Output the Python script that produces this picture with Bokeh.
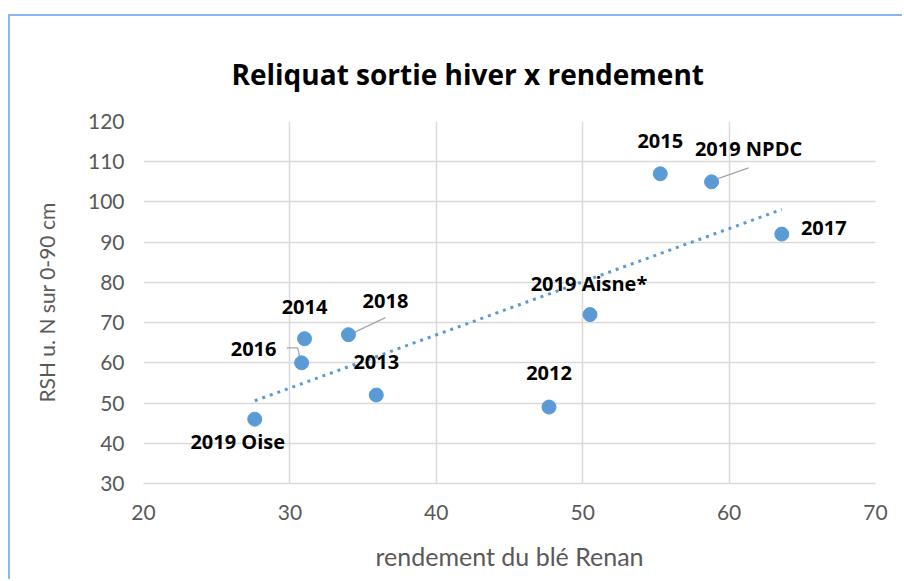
import numpy as np
from bokeh.plotting import figure
from bokeh.models import ColumnDataSource, LabelSet, FixedTicker, Range1d
from bokeh.core.properties import value
from bokeh.embed import file_html
from bokeh.resources import INLINE

# ---- data ----
labels = ["2019 Oise", "2016", "2014", "2018", "2013", "2012",
          "2019 Aisne*", "2015", "2019 NPDC", "2017"]
rendement = [27.6, 30.8, 31.0, 34.0, 35.9, 47.7, 50.5, 55.3, 58.8, 63.6]
rsh = [46, 60, 66, 67, 52, 49, 72, 107, 105, 92]
x_ticks = [20, 30, 40, 50, 60, 70]
y_ticks = [30, 40, 50, 60, 70, 80, 90, 100, 110, 120]

# ---- layout (pixels) ----
W, H = 894, 565
FW, FH = 732, 362
BL, BT = 133, 105
BR, BB = W - BL - FW, H - BT - FH
X0, X1, Y0, Y1 = 20, 70, 30, 120
PX = FW / (X1 - X0)   # pixels per x unit
PY = FH / (Y1 - Y0)   # pixels per y unit

# label offsets in pixels (dx right, dy up)
lab_dx = [-17, -48, 0, 37, 0, 0, -1, 0, 37, 42]
lab_dy = [-22, 14, 32, 34, 33, 34, 31, 33, 33, 6]

BLUE = "#5B9BD5"
GRID = "#D9D9D9"
TXT = "#595959"
FONT = "Lato"
BFONT = "Open Sans"

p = figure(width=W, height=H, output_backend="svg", toolbar_location=None,
           x_range=Range1d(X0, X1), y_range=Range1d(Y0, Y1),
           min_border_left=BL, min_border_right=BR, min_border_top=BT,
           min_border_bottom=BB)
p.styles = {"border-top": "2px solid #8AB6EA", "border-left": "2px solid #8AB6EA",
            "margin-top": "14px", "margin-left": "8px"}
p.outline_line_color = None
p.background_fill_color = "white"
p.border_fill_color = "white"

p.title.text = "Reliquat sortie hiver x rendement"
p.title.align = "left"
p.title.offset = 88
p.title.standoff = 57
p.title.text_font = BFONT
p.title.text_font_size = "28px"
p.title.text_font_style = "bold"
p.title.text_color = "black"

p.xaxis.ticker = FixedTicker(ticks=x_ticks)
p.yaxis.ticker = FixedTicker(ticks=y_ticks)
for ax in (p.xaxis, p.yaxis):
    ax.major_tick_line_color = None
    ax.minor_tick_line_color = None
    ax.major_tick_out = 0
    ax.major_label_text_font = FONT
    ax.major_label_text_font_size = "21px"
    ax.major_label_text_color = TXT
    ax.axis_label_text_font = FONT
    ax.axis_label_text_font_style = "normal"
    ax.axis_label_text_color = TXT
p.xaxis.axis_label_text_font_size = "25px"
p.yaxis.axis_label_text_font_size = "21px"
p.yaxis.axis_line_color = None
p.xaxis.axis_line_color = GRID
p.xaxis.axis_line_width = 1.5
p.xaxis.major_label_standoff = 21
p.yaxis.major_label_standoff = 19
p.xaxis.axis_label = "rendement du blé Renan"
p.yaxis.axis_label = "RSH u. N sur 0-90 cm"
p.xaxis.axis_label_standoff = 18
p.yaxis.axis_label_standoff = 26

p.xgrid.grid_line_color = GRID
p.ygrid.grid_line_color = GRID
p.xgrid.grid_line_width = 1.5
p.ygrid.grid_line_width = 1.5

# trendline (linear regression of the data)
xs = np.array(rendement, dtype=float)
ys = np.array(rsh, dtype=float)
a, b = np.polyfit(xs, ys, 1)
tx = [float(xs.min()), float(xs.max())]
p.line(tx, [a * t + b for t in tx], line_color=BLUE, line_width=3,
       line_dash="3 5")

# leader lines (pixel offsets from the point)
leaders = {
    "2016": [(-15, 15), (-4, 15), (-1, 2)],
    "2018": [(37, 17), (1, 0)],
    "2019 NPDC": [(37, 14), (0, 1)],
}
lx, ly = [], []
for name, pts in leaders.items():
    i = labels.index(name)
    lx.append([rendement[i] + dx / PX for dx, dy in pts])
    ly.append([rsh[i] + dy / PY for dx, dy in pts])
p.multi_line(lx, ly, line_color="#A6A6A6", line_width=1.3)

src = ColumnDataSource(dict(x=rendement, y=rsh, t=labels, dx=lab_dx, dy=lab_dy))
p.scatter("x", "y", source=src, size=14, fill_color=BLUE, line_color=BLUE)

ls = LabelSet(x="x", y="y", text="t", x_offset="dx", y_offset="dy", source=src,
              text_font=value(BFONT), text_font_size=value("20px"),
              text_font_style=value("bold"), text_color="black",
              text_align="center", text_baseline="middle")
p.add_layout(ls)

open("out.html", "w").write(file_html(p, INLINE))
